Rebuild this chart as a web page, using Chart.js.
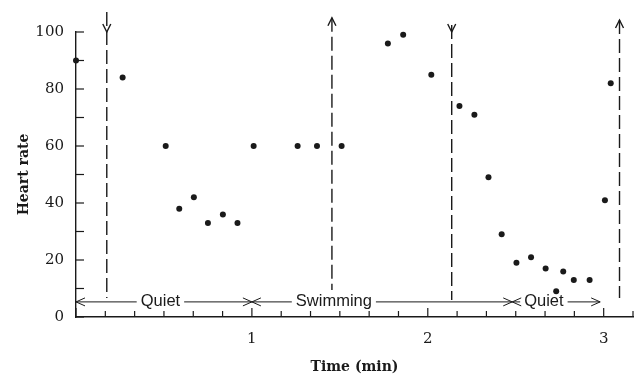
<!DOCTYPE html>
<html>
<head>
<meta charset="utf-8">
<script src="https://cdn.jsdelivr.net/npm/chart.js@4.4.1/dist/chart.umd.min.js"></script>
<style>
  html, body { margin: 0; padding: 0; background: #fff; }
  #wrap { width: 638px; height: 380px; }
</style>
</head>
<body>
<div id="wrap"><canvas id="c"></canvas></div>
<script>
// heart rate readings
const timeMin = [0.0, 0.265, 0.51, 0.587, 0.67, 0.75, 0.835, 0.918, 1.01, 1.26, 1.37, 1.51,
  1.773, 1.86, 2.02, 2.18, 2.265, 2.345, 2.42, 2.504, 2.587, 2.67, 2.73, 2.77, 2.83, 2.92, 3.007, 3.04];
const heartRate = [90, 84, 60, 38, 42, 33, 36, 33, 60, 60, 60, 60,
  96, 99, 85, 74, 71, 49, 29, 19, 21, 17, 9, 16, 13, 13, 41, 82];

// axes: x ticks every 10 s, labels on whole minutes; y ticks every 10, labels every 20
const xTickValues = [0, 1/6, 2/6, 3/6, 4/6, 5/6, 1, 7/6, 8/6, 9/6, 10/6, 11/6, 2,
  13/6, 14/6, 15/6, 16/6, 17/6, 3, 19/6];
const xTickLabels = ['1', '2', '3'];
const yTickValues = [0, 10, 20, 30, 40, 50, 60, 70, 80, 90, 100];
const yTickLabels = ['0', '20', '40', '60', '80', '100'];

// dashed event markers
const markerTimes = [0.175, 1.455, 2.136, 3.09];
const markerDirs = ['down', 'up', 'down', 'up'];
const markerTop = [107, 105, 102.5, 104.2];
const markerBottom = [6.7, 9.5, 6, 6.7];

// phase arrows along the bottom
const phaseNames = ['Quiet', 'Swimming', 'Quiet'];
const phaseStart = [0, 1.0, 2.48];
const phaseEnd = [1.0, 2.48, 2.98];
const phaseLabelAt = [0.48, 1.466, 2.66];
const phaseLevel = 5.3;

const ink = '#1a1a1a';
const serif = "'DejaVu Serif', serif";

function chevron(ctx, tx, ty, dx, dy, len, half) {
  const nx = -dy, ny = dx;
  ctx.beginPath();
  ctx.moveTo(tx - dx * len + nx * half, ty - dy * len + ny * half);
  ctx.lineTo(tx, ty);
  ctx.lineTo(tx - dx * len - nx * half, ty - dy * len - ny * half);
  ctx.stroke();
}

const annotations = {
  id: 'annotations',
  afterDraw(chart) {
    const { ctx, scales: { x, y }, chartArea } = chart;
    ctx.save();
    ctx.strokeStyle = ink;
    ctx.lineWidth = 1.2;

    // inward tick marks
    x.ticks.forEach(t => {
      const px = x.getPixelForValue(t.value);
      const major = Math.abs(t.value - Math.round(t.value)) < 1e-6;
      ctx.beginPath();
      ctx.moveTo(px, chartArea.bottom);
      ctx.lineTo(px, chartArea.bottom - (major ? 9 : 6));
      ctx.stroke();
    });
    y.ticks.forEach(t => {
      const py = y.getPixelForValue(t.value);
      ctx.beginPath();
      ctx.moveTo(chartArea.left, py);
      ctx.lineTo(chartArea.left + 8, py);
      ctx.stroke();
    });

    // dashed markers with arrows
    markerTimes.forEach((m, i) => {
      const px = x.getPixelForValue(m);
      const top = y.getPixelForValue(markerTop[i]);
      const bot = y.getPixelForValue(markerBottom[i]);
      ctx.lineWidth = 1.4;
      ctx.setLineDash([14, 5]);
      ctx.beginPath();
      ctx.moveTo(px, top);
      ctx.lineTo(px, bot);
      ctx.stroke();
      ctx.setLineDash([]);
      if (markerDirs[i] === 'up') {
        chevron(ctx, px, top, 0, -1, 8, 4);
      } else {
        chevron(ctx, px, y.getPixelForValue(100), 0, 1, 8, 4);
      }
    });

    // phase arrows
    ctx.lineWidth = 1;
    ctx.font = "16.5px 'Liberation Sans Narrow', 'Liberation Sans', sans-serif";
    ctx.fillStyle = ink;
    ctx.textAlign = 'center';
    ctx.textBaseline = 'middle';
    const py = y.getPixelForValue(phaseLevel);
    phaseNames.forEach((name, i) => {
      const sx = x.getPixelForValue(phaseStart[i]);
      const ex = x.getPixelForValue(phaseEnd[i]);
      const lx = x.getPixelForValue(phaseLabelAt[i]);
      const w = ctx.measureText(name).width;
      ctx.fillText(name, lx, py);
      ctx.beginPath();
      ctx.moveTo(sx, py); ctx.lineTo(lx - w / 2 - 4, py);
      ctx.moveTo(lx + w / 2 + 4, py); ctx.lineTo(ex, py);
      ctx.stroke();
      chevron(ctx, sx, py, -1, 0, 9, 4);
      chevron(ctx, ex, py, 1, 0, 9, 4);
    });
    ctx.restore();
  }
};

new Chart(document.getElementById('c'), {
  type: 'scatter',
  data: {
    datasets: [{
      label: 'Heart rate',
      data: timeMin.map((t, i) => ({ x: t, y: heartRate[i] })),
      pointRadius: 3,
      pointHoverRadius: 3,
      pointBackgroundColor: ink,
      pointBorderWidth: 0,
      clip: false,
    }],
  },
  options: {
    responsive: true,
    maintainAspectRatio: false,
    animation: false,
    events: [],
    layout: { padding: { top: 32, right: 5, left: 0, bottom: 0 } },
    plugins: { legend: { display: false }, tooltip: { enabled: false } },
    scales: {
      x: {
        type: 'linear',
        min: 0, max: 19 / 6,
        afterBuildTicks: s => { s.ticks = xTickValues.map(v => ({ value: v })); },
        afterFit: s => { s.height = 63; },
        border: { display: true, color: ink, width: 1.4 },
        grid: { drawOnChartArea: false, drawTicks: true, tickLength: 13, tickColor: 'rgba(0,0,0,0)' },
        ticks: {
          autoSkip: false, maxRotation: 0, padding: 0,
          color: ink, font: { family: serif, size: 15 },
          callback: v => {
            const r = Math.round(v);
            return Math.abs(v - r) < 1e-6 && r > 0 ? xTickLabels[r - 1] : '';
          },
        },
        title: {
          display: true, text: 'Time (min)', color: ink,
          font: { family: serif, size: 14, weight: 'bold' },
          padding: { top: 0, bottom: 4 },
        },
      },
      y: {
        min: 0, max: 100,
        afterBuildTicks: s => { s.ticks = yTickValues.map(v => ({ value: v })); },
        afterFit: s => { s.width = 76; },
        border: { display: true, color: ink, width: 1.4 },
        grid: { drawOnChartArea: false, drawTicks: false },
        ticks: {
          autoSkip: false, padding: 12,
          color: ink, font: { family: serif, size: 15 },
          callback: v => (v % 20 === 0 ? yTickLabels[v / 20] : ''),
        },
        title: {
          display: true, text: 'Heart rate', color: ink,
          font: { family: serif, size: 14, weight: 'bold' },
          padding: { top: 16, bottom: 0 },
        },
      },
    },
  },
  plugins: [annotations],
});
</script>
</body>
</html>
